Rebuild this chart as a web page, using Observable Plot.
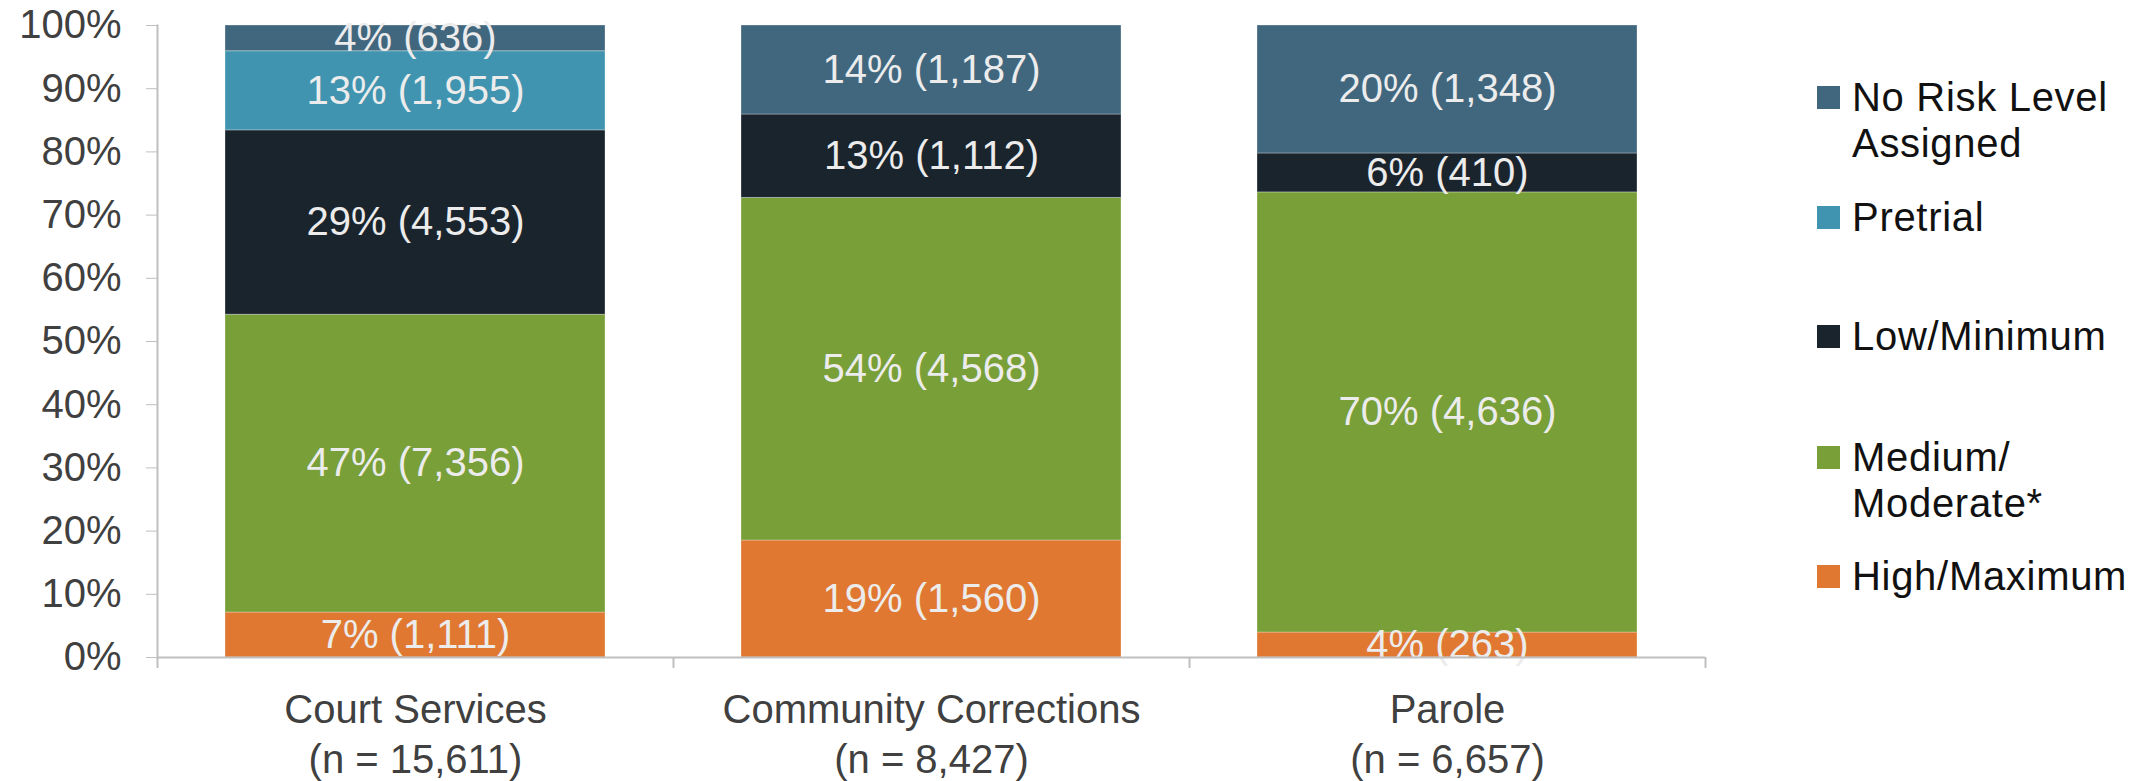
<!DOCTYPE html>
<html>
<head>
<meta charset="utf-8">
<script src="https://cdn.jsdelivr.net/npm/d3@7"></script>
<script src="https://cdn.jsdelivr.net/npm/@observablehq/plot@0.6"></script>
<style>
  html, body { margin: 0; padding: 0; background: #ffffff; }
  #wrap { position: relative; width: 2144px; height: 781px; overflow: hidden; }
  #legend { position: absolute; left: 1817px; top: 0; font-family: "Liberation Sans", Arial, sans-serif; font-size: 40px; color: #111; letter-spacing: 0.7px; }
  .item { position: absolute; left: 0; display: flex; align-items: flex-start; white-space: pre; line-height: 46px; }
  .sw { width: 23px; height: 23px; margin-top: 11.5px; margin-right: 12px; flex: none; }
</style>
</head>
<body>
<div id="wrap"><div id="chart"></div><div id="legend"></div></div>
<script>
// ---- data ----
const categories = ["Court Services", "Community Corrections", "Parole"];
const categoryN = ["15,611", "8,427", "6,657"];
const levels = ["High/Maximum", "Medium/Moderate*", "Low/Minimum", "Pretrial", "No Risk Level Assigned"];
const levelColors = ["#e07832", "#789f38", "#1a242d", "#4094b0", "#41677f"];
const courtServices = [1111, 7356, 4553, 1955, 636];
const communityCorrections = [1560, 4568, 1112, 0, 1187];
const parole = [263, 4636, 410, 0, 1348];
const yTicks = [0, 0.1, 0.2, 0.3, 0.4, 0.5, 0.6, 0.7, 0.8, 0.9, 1];
// legend, top to bottom
const legendLevels = ["No Risk Level Assigned", "Pretrial", "Low/Minimum", "Medium/Moderate*", "High/Maximum"];
const legendLabels = ["No Risk Level\nAssigned", "Pretrial", "Low/Minimum", "Medium/\nModerate*", "High/Maximum"];

// ---- layout ----
const W = 2144, H = 781;
const ml = 157, mr = 439, mt = 25, mb = 124;
const step = (W - ml - mr) / categories.length;
const legendTops = [74, 194, 313, 434, 553];
const axisGray = "#bfbfbf";

const series = [courtServices, communityCorrections, parole];
const rows = [];
categories.forEach((c, i) => {
  const total = d3.sum(series[i]);
  levels.forEach((l, j) => rows.push({cat: c, level: l, count: series[i][j], total}));
});
const fmt = d3.format(",");
const label = d => `${Math.round(100 * d.count / d.total)}% (${fmt(d.count)})`;

const chart = Plot.plot({
  width: W, height: H,
  marginLeft: ml, marginRight: mr, marginTop: mt, marginBottom: mb,
  style: {fontFamily: "'Liberation Sans', Arial, sans-serif", fontSize: "40px", color: "#404040", background: "white"},
  x: {domain: categories, paddingInner: 0.264, paddingOuter: 0.132, label: null},
  y: {domain: [0, 1], label: null},
  color: {domain: levels, range: levelColors},
  marks: [
    Plot.barY(rows, Plot.stackY({x: "cat", y: "count", fill: "level", order: levels, offset: "normalize", stroke: "#ffffff", strokeOpacity: 0.3, strokeWidth: 1})),
    Plot.text(rows, Plot.stackY({filter: d => d.count > 0, x: "cat", y: "count", z: "level", order: levels, offset: "normalize", text: label, fill: "#ececec", fontSize: 40})),
    Plot.ruleY([0], {stroke: axisGray, strokeWidth: 2}),
    Plot.frame({anchor: "left", stroke: axisGray, strokeWidth: 2}),
    Plot.ruleX(categories, {x: d => d, dx: -step / 2, y1: 0, y2: 0, insetBottom: -11, stroke: axisGray, strokeWidth: 2}),
    Plot.ruleX(categories.slice(-1), {x: d => d, dx: step / 2, y1: 0, y2: 0, insetBottom: -11, stroke: axisGray, strokeWidth: 2}),
    Plot.axisY({ticks: yTicks, tickFormat: d3.format(".0%"), tickSize: 11, tickPadding: 25, stroke: axisGray, fill: "#404040", label: null}),
    Plot.axisX({tickSize: 0, tickPadding: 30, lineHeight: 1.25, fill: "#404040", tickFormat: (d) => `${d}\n(n = ${categoryN[categories.indexOf(d)]})`, label: null})
  ]
});
document.getElementById("chart").appendChild(chart);

const legend = document.getElementById("legend");
legendLevels.forEach((l, i) => {
  const item = document.createElement("div");
  item.className = "item";
  item.style.top = legendTops[i] + "px";
  const sw = document.createElement("div");
  sw.className = "sw";
  sw.style.background = levelColors[levels.indexOf(l)];
  const tx = document.createElement("div");
  tx.textContent = legendLabels[i];
  item.appendChild(sw); item.appendChild(tx);
  legend.appendChild(item);
});
</script>
</body>
</html>
